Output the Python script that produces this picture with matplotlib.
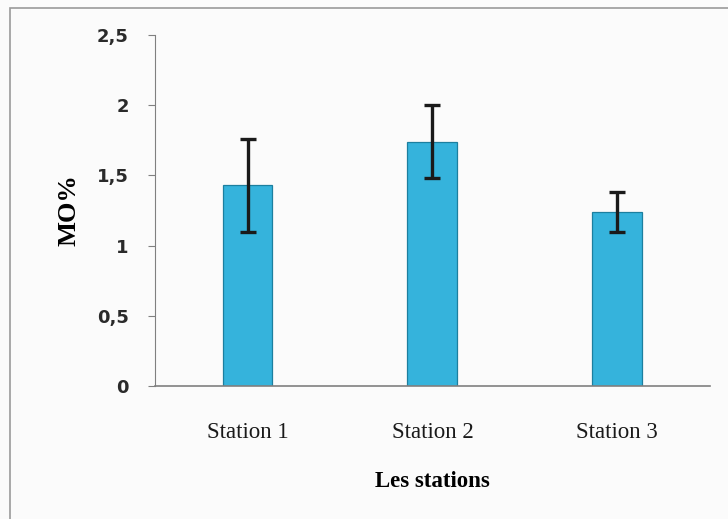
import numpy as np
import matplotlib.pyplot as plt
from matplotlib.patches import Rectangle

stations = ['Station 1', 'Station 2', 'Station 3']
mo_pct = [1.43, 1.74, 1.24]
mo_err = [0.33, 0.26, 0.14]
yticks = [0, 0.5, 1, 1.5, 2, 2.5]
ytick_labels = ['0', '0,5', '1', '1,5', '2', '2,5']

fig = plt.figure(figsize=(7.28, 5.19), dpi=100)
fig.patch.set_facecolor('#fbfbfb')
ax = fig.add_axes([0.213, 0.256, 0.762, 0.677])
ax.set_facecolor('#fbfbfb')

# outer frame of the chart area (scan)
fig.patches.append(Rectangle((0.014, -0.01), 1.0, 0.995, transform=fig.transFigure,
                             fill=False, edgecolor='#9a9a9a', linewidth=1.2))

x = np.arange(len(stations))
ax.bar(x, mo_pct, width=0.27, color='#35b3dc', edgecolor='#1c7f9f', linewidth=0.9, zorder=2)
ax.errorbar(x, mo_pct, yerr=mo_err, fmt='none', ecolor='#1a1a1a', elinewidth=2.4,
            capsize=6, capthick=2.4, zorder=3)

ax.set_xlim(-0.5, 2.5)
ax.set_ylim(0, 2.5)
ax.set_yticks(yticks)
ax.set_yticklabels(ytick_labels, fontfamily='DejaVu Sans', fontweight='bold', fontsize=13, color='#2a2a2a')
ax.set_xticks(x)
ax.set_xticklabels(stations, fontfamily='Liberation Serif', fontsize=16.5, color='#1a1a1a')
ax.tick_params(axis='x', length=0, pad=26)
ax.tick_params(axis='y', length=5, color='#808080', pad=14)

for side in ['top', 'right']:
    ax.spines[side].set_visible(False)
ax.spines['left'].set_color('#808080')
ax.spines['bottom'].set_color('#808080')
ax.spines['bottom'].set_linewidth(1.2)

ax.set_ylabel('MO%', fontfamily='Liberation Serif', fontweight='bold', fontsize=19, labelpad=12)
ax.set_xlabel('Les stations', fontfamily='Liberation Serif', fontweight='bold', fontsize=16.5, labelpad=20)

fig.savefig('out.png', dpi=100, facecolor=fig.get_facecolor())
